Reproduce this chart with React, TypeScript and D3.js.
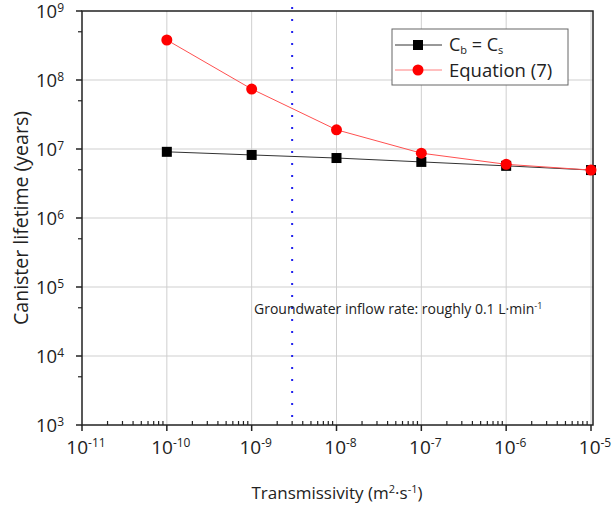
import React, { useEffect, useRef } from "react";
import * as d3 from "d3";

// transmissivity (m2/s)
const transmissivity = [1e-10, 1e-9, 1e-8, 1e-7, 1e-6, 1e-5];
// Cb = Cs series (years)
const lifetimeCbCs = [9.1e6, 8.2e6, 7.4e6, 6.5e6, 5.7e6, 4.95e6];
// Equation (7) series (years)
const lifetimeEq7 = [3.8e8, 7.4e7, 1.9e7, 8.7e6, 6.0e6, 4.95e6];
const xTickExp = [-11, -10, -9, -8, -7, -6, -5];
const yTickExp = [3, 4, 5, 6, 7, 8, 9];
const inflowT = 3e-9;

const FONT = "'Open Sans', 'Noto Sans', sans-serif";

const App = () => {
  const svgRef = useRef<SVGSVGElement>(null);

  useEffect(() => {
    const width = 613;
    const height = 507;
    const margin = { top: 11, right: 22, bottom: 82, left: 82 };
    const svg = d3.select(svgRef.current);
    svg.selectAll("*").remove();
    svg.attr("width", width).attr("height", height);

    const x = d3.scaleLog().domain([1e-11, 1e-5]).range([margin.left, 591]);
    const y = d3.scaleLog().domain([1e3, 1e9]).range([height - margin.bottom, margin.top]);
    const x0 = margin.left;
    const x1 = 593;
    const y0 = y(1e3);
    const y1 = margin.top;

    // grid
    const grid = svg.append("g").attr("stroke", "#cfcfcf").attr("stroke-width", 1);
    xTickExp.slice(1).forEach((e) => {
      grid.append("line").attr("x1", x(10 ** e)).attr("x2", x(10 ** e)).attr("y1", y0).attr("y2", y1);
    });
    yTickExp.slice(1, -1).forEach((e) => {
      grid.append("line").attr("x1", x0).attr("x2", x1).attr("y1", y(10 ** e)).attr("y2", y(10 ** e));
    });

    // frame
    svg.append("rect")
      .attr("x", x0).attr("y", y1).attr("width", x1 - x0).attr("height", y0 - y1)
      .attr("fill", "none").attr("stroke", "#222").attr("stroke-width", 1.5);

    // x ticks
    const axis = svg.append("g").attr("stroke", "#222");
    xTickExp.forEach((e, i) => {
      const v = 10 ** e;
      axis.append("line").attr("x1", x(v)).attr("x2", x(v)).attr("y1", y0).attr("y2", y0 + 6).attr("stroke-width", 1.5);
      if (i < xTickExp.length - 1) {
        for (let k = 2; k <= 9; k++) {
          const xv = x(k * v);
          axis.append("line").attr("x1", xv).attr("x2", xv).attr("y1", y0).attr("y2", y0 - 4).attr("stroke-width", 1.2);
        }
      }
      const t = svg.append("text")
        .attr("x", x(v) + 4).attr("y", 454)
        .attr("text-anchor", "middle")
        .attr("font-family", FONT).attr("font-size", 19).attr("fill", "#222");
      t.append("tspan").text("10");
      t.append("tspan").attr("dy", -7).attr("font-size", 12).text(String(e));
    });

    // y ticks
    yTickExp.forEach((e, i) => {
      const v = 10 ** e;
      axis.append("line").attr("x1", x0 - 6).attr("x2", x0).attr("y1", y(v)).attr("y2", y(v)).attr("stroke-width", 1.5);
      if (i < yTickExp.length - 1) {
        axis.append("line").attr("x1", x0 - 4).attr("x2", x0).attr("y1", y(5 * v)).attr("y2", y(5 * v)).attr("stroke-width", 1.2);
      }
      const t = svg.append("text")
        .attr("x", 64).attr("y", y(v) + 7)
        .attr("text-anchor", "end")
        .attr("font-family", FONT).attr("font-size", 18.5).attr("fill", "#222");
      t.append("tspan").text("10");
      t.append("tspan").attr("dy", -6).attr("font-size", 12).text(String(e));
    });

    // vertical dotted line
    svg.append("line")
      .attr("x1", x(inflowT)).attr("x2", x(inflowT))
      .attr("y1", 7).attr("y2", y0)
      .attr("stroke", "#2222ee").attr("stroke-width", 2)
      .attr("stroke-dasharray", "2,10");

    svg.append("text")
      .attr("x", 254).attr("y", 314)
      .attr("font-family", FONT).attr("font-size", 14).attr("fill", "#222")
      .text("Groundwater inflow rate: roughly 0.1 L·min")
      .append("tspan").attr("dy", -5).attr("font-size", 9).text("-1");

    const line = d3.line<number>()
      .x((_, i) => x(transmissivity[i]))
      .y((d) => y(d));

    svg.append("path").datum(lifetimeCbCs)
      .attr("fill", "none").attr("stroke", "#333").attr("stroke-width", 1).attr("d", line);
    svg.append("path").datum(lifetimeEq7)
      .attr("fill", "none").attr("stroke", "#ff5050").attr("stroke-width", 1).attr("d", line);

    svg.selectAll("rect.sq").data(lifetimeCbCs).enter().append("rect")
      .attr("class", "sq")
      .attr("x", (_, i) => x(transmissivity[i]) - 5)
      .attr("y", (d) => y(d) - 5)
      .attr("width", 10).attr("height", 10).attr("fill", "#000");
    svg.selectAll("circle.pt").data(lifetimeEq7).enter().append("circle")
      .attr("class", "pt")
      .attr("cx", (_, i) => x(transmissivity[i]))
      .attr("cy", (d) => y(d))
      .attr("r", 5.5).attr("fill", "#ff0000");

    // legend
    const lg = svg.append("g");
    lg.append("rect").attr("x", 392).attr("y", 29).attr("width", 176).attr("height", 56)
      .attr("fill", "#fff").attr("stroke", "#666").attr("stroke-width", 1);
    lg.append("line").attr("x1", 395).attr("x2", 442).attr("y1", 45).attr("y2", 45).attr("stroke", "#333");
    lg.append("rect").attr("x", 413).attr("y", 40).attr("width", 10).attr("height", 10).attr("fill", "#000");
    lg.append("line").attr("x1", 395).attr("x2", 442).attr("y1", 70).attr("y2", 70).attr("stroke", "#ff8080");
    lg.append("circle").attr("cx", 418).attr("cy", 70).attr("r", 5.5).attr("fill", "#ff0000");

    const t1 = lg.append("text").attr("x", 449).attr("y", 51)
      .attr("font-family", FONT).attr("font-size", 18).attr("fill", "#222");
    t1.append("tspan").text("C");
    t1.append("tspan").attr("dy", 3).attr("font-size", 11).text("b");
    t1.append("tspan").attr("dy", -3).text(" = C");
    t1.append("tspan").attr("dy", 3).attr("font-size", 11).text("s");
    lg.append("text").attr("x", 449).attr("y", 77)
      .attr("font-family", FONT).attr("font-size", 18.5).attr("fill", "#222")
      .text("Equation (7)");

    // axis titles
    const xt = svg.append("text").attr("x", 337).attr("y", 499)
      .attr("text-anchor", "middle")
      .attr("font-family", FONT).attr("font-size", 17).attr("fill", "#222");
    xt.append("tspan").text("Transmissivity (m");
    xt.append("tspan").attr("dy", -6).attr("font-size", 11).text("2");
    xt.append("tspan").attr("dy", 6).text("·s");
    xt.append("tspan").attr("dy", -6).attr("font-size", 11).text("-1");
    xt.append("tspan").attr("dy", 6).text(")");

    svg.append("text")
      .attr("transform", `translate(28, ${(y0 + y1) / 2}) rotate(-90)`)
      .attr("text-anchor", "middle")
      .attr("font-family", FONT).attr("font-size", 19.5).attr("fill", "#222")
      .text("Canister lifetime (years)");
  }, []);

  return (
    <div style={{ position: "absolute", left: 0, top: 0 }}>
      <svg ref={svgRef}></svg>
    </div>
  );
};

export default App;
